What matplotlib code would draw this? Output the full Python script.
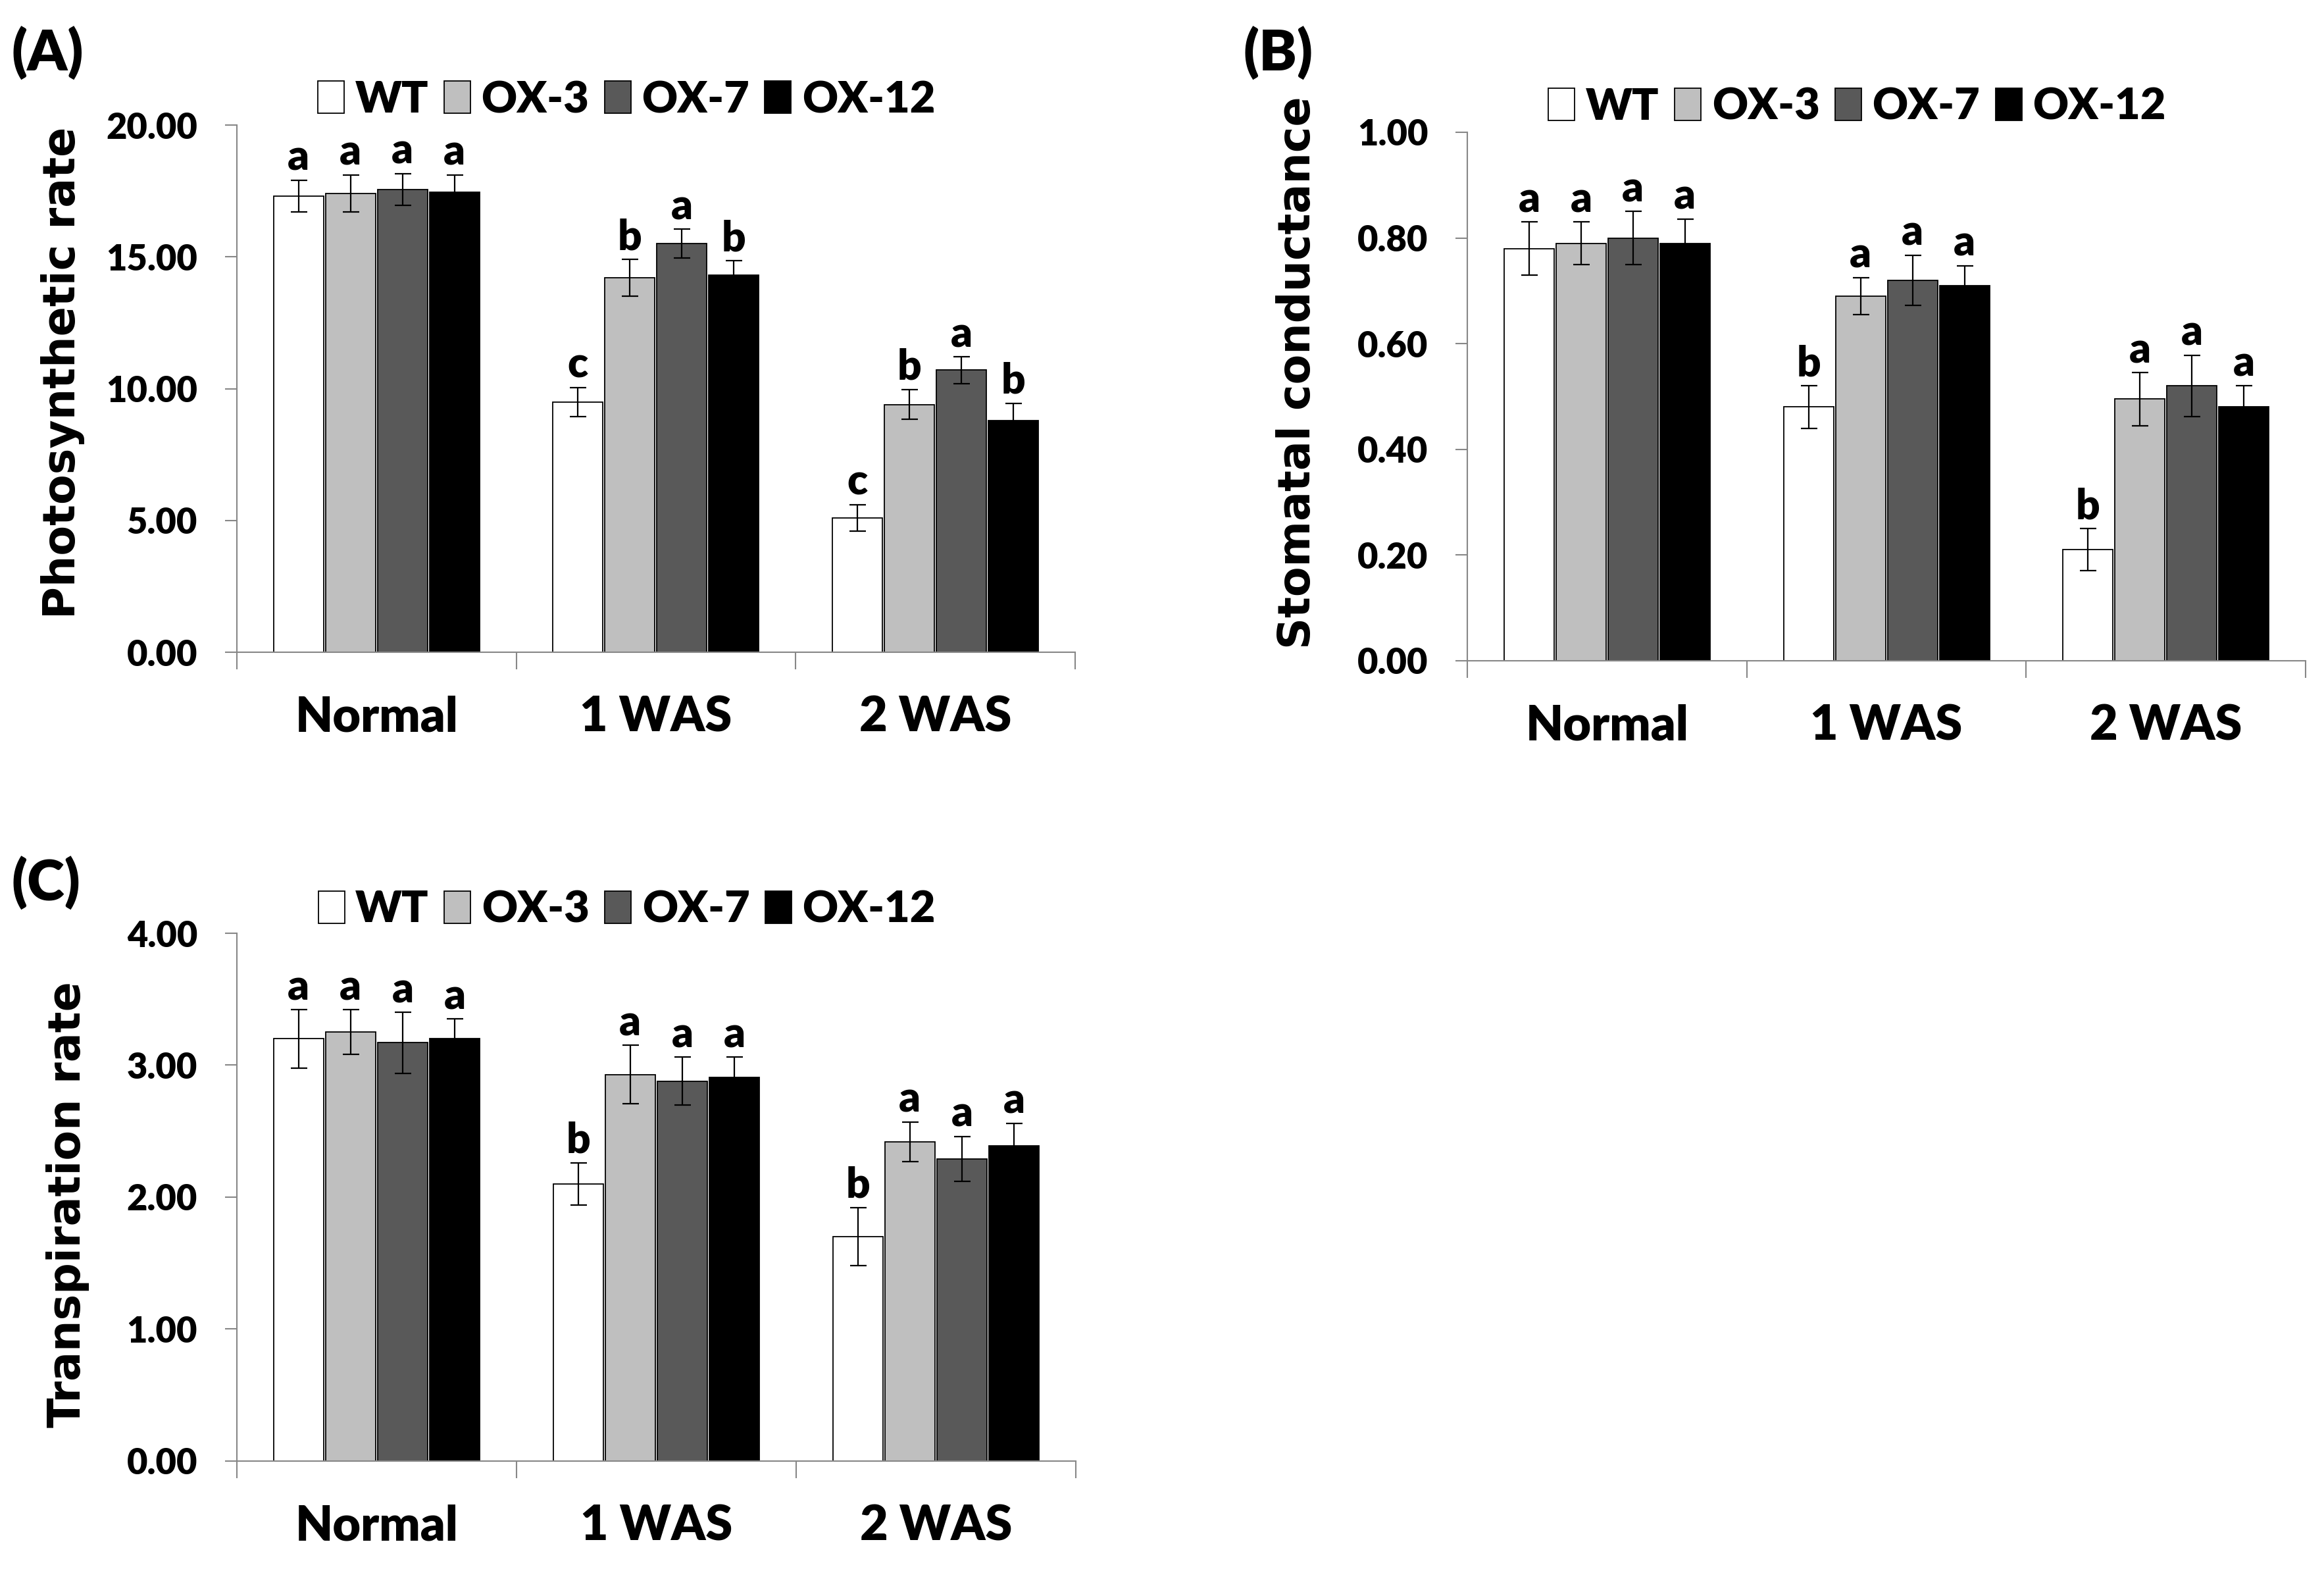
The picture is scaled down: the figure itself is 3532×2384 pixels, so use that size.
import matplotlib
matplotlib.use('Agg')
import matplotlib.pyplot as plt
from matplotlib import font_manager
import numpy as np

# данные
groups = ['Normal', '1 WAS', '2 WAS']
lines = ['WT', 'OX-3', 'OX-7', 'OX-12']
colors = ['#FFFFFF', '#BFBFBF', '#595959', '#000000']

photo_mean = [[17.3, 9.5, 5.1],
              [17.4, 14.2, 9.4],
              [17.55, 15.5, 10.7],
              [17.45, 14.3, 8.8]]
photo_err = [[0.6, 0.55, 0.5],
             [0.7, 0.7, 0.57],
             [0.6, 0.55, 0.5],
             [0.65, 0.55, 0.65]]
photo_letters = [['a', 'c', 'c'],
                 ['a', 'b', 'b'],
                 ['a', 'a', 'a'],
                 ['a', 'b', 'b']]

stom_mean = [[0.78, 0.48, 0.21],
             [0.79, 0.69, 0.495],
             [0.80, 0.72, 0.52],
             [0.79, 0.71, 0.48]]
stom_err = [[0.05, 0.04, 0.04],
            [0.04, 0.035, 0.05],
            [0.05, 0.047, 0.058],
            [0.046, 0.037, 0.04]]
stom_letters = [['a', 'b', 'b'],
                ['a', 'a', 'a'],
                ['a', 'a', 'a'],
                ['a', 'a', 'a']]

trans_mean = [[3.2, 2.1, 1.7],
              [3.25, 2.93, 2.42],
              [3.17, 2.88, 2.29],
              [3.2, 2.91, 2.39]]
trans_err = [[0.22, 0.16, 0.22],
             [0.17, 0.22, 0.15],
             [0.23, 0.18, 0.17],
             [0.15, 0.15, 0.17]]
trans_letters = [['a', 'b', 'b'],
                 ['a', 'a', 'a'],
                 ['a', 'a', 'a'],
                 ['a', 'a', 'a']]

names = {f.name for f in font_manager.fontManager.ttflist}
narrow = 'Lato' if 'Lato' in names else 'Liberation Sans'
wide = 'DejaVu Sans'
heavy = 'heavy'

axis_gray = '#878787'


def draw_panel(ax, means, errs, letters, ylabel, ymax, step, label_pos, leg_y):
    x = np.arange(len(groups))
    width = 0.179
    shift = 0.186
    for i in range(len(lines)):
        pos = x + (i - 1.5) * shift
        ax.bar(pos, means[i], width, color=colors[i], edgecolor='black',
               linewidth=1.3, label=lines[i], zorder=2)
        ax.errorbar(pos, means[i], yerr=errs[i], fmt='none', ecolor='black',
                    elinewidth=1.6, capsize=9, capthick=1.6, zorder=3)
        for j in range(len(groups)):
            ax.annotate(letters[i][j], (pos[j], means[i][j] + errs[i][j]),
                        xytext=(0, 3), textcoords='offset points',
                        ha='center', va='bottom', fontsize=46,
                        fontweight=heavy, family=narrow)

    ax.set_xlim(-0.5, 2.5)
    ax.set_ylim(0, ymax)
    ax.set_yticks(np.arange(0, ymax + step / 2, step))
    ax.set_yticklabels(['%.2f' % v for v in np.arange(0, ymax + step / 2, step)],
                       fontsize=39, fontweight=heavy, family=narrow)
    ax.set_xticks(x)
    ax.set_xticklabels(groups, fontsize=53, fontweight=heavy, family=narrow)
    ax.set_xticks([-0.5, 0.5, 1.5, 2.5], minor=True)
    ax.tick_params(axis='x', which='major', length=0, pad=47)
    ax.tick_params(axis='x', which='minor', length=19, width=1.5,
                   color=axis_gray, direction='out')
    ax.tick_params(axis='y', length=13, width=1.5, color=axis_gray, pad=30)

    for side in ['top', 'right']:
        ax.spines[side].set_visible(False)
    for side in ['left', 'bottom']:
        ax.spines[side].set_color(axis_gray)
        ax.spines[side].set_linewidth(1.5)

    ax.set_ylabel(ylabel, fontsize=48, fontweight='bold', family=wide)
    ax.yaxis.set_label_coords(label_pos[0], label_pos[1])

    ax.legend(loc='center', bbox_to_anchor=(0.465, leg_y), ncol=4, frameon=False,
              prop={'family': narrow, 'weight': heavy, 'size': 48},
              handlelength=0.6, handleheight=0.75, handletextpad=0.25,
              columnspacing=0.35, borderaxespad=0)


fig = plt.figure(figsize=(35.32, 23.84), dpi=100)
ax_a = fig.add_axes([0.1019, 0.5843, 0.3607, 0.336])
ax_b = fig.add_axes([0.6314, 0.5789, 0.3607, 0.3368])
ax_c = fig.add_axes([0.1019, 0.0688, 0.3610, 0.3364])

draw_panel(ax_a, photo_mean, photo_err, photo_letters, 'Photosynthetic rate',
           20, 5, (-0.181, 0.53), 1.048)
draw_panel(ax_b, stom_mean, stom_err, stom_letters, 'Stomatal conductance',
           1.0, 0.2, (-0.177, 0.545), 1.048)
draw_panel(ax_c, trans_mean, trans_err, trans_letters, 'Transpiration rate',
           4, 1, (-0.176, 0.486), 1.045)

fig.text(0.005, 0.966, '(A)', fontsize=62, fontweight=heavy, family=narrow,
         va='center', ha='left')
fig.text(0.535, 0.966, '(B)', fontsize=62, fontweight=heavy, family=narrow,
         va='center', ha='left')
fig.text(0.005, 0.437, '(C)', fontsize=62, fontweight=heavy, family=narrow,
         va='center', ha='left')

plt.savefig('out.png', dpi=100)
